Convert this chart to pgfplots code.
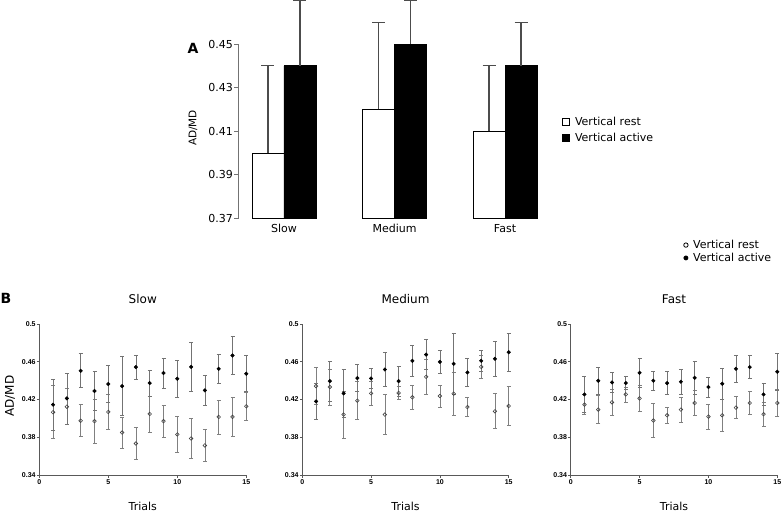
\documentclass[border=0pt]{standalone}
\usepackage{pgfplots}
\pgfplotsset{compat=1.18}
\usepackage{fontspec}
\setmainfont{DejaVu Sans}
\newfontfamily\tickfont{Liberation Sans}

\pgfplotsset{
  bstyle/.style={
    scale only axis, height=151pt,
    xmin=0, xmax=15, ymin=0.34, ymax=0.5,
    axis lines*=left,
    axis line style={black!65, line width=0.8pt, -},
    xtick={0,5,10,15}, ytick={0.34,0.38,0.42,0.46,0.5},
    tick align=outside, major tick length=2.5pt,
    tick style={black!65, line width=0.7pt},
    tick label style={font=\fontsize{7}{8}\tickfont\bfseries},
    /pgf/number format/assume math mode=true,
    yticklabel style={inner sep=1pt},
    xticklabel style={inner sep=1.5pt},
    clip=false,
  },
  activeplot/.style={only marks, mark=*, mark size=1.8pt, black,
    error bars/.cd, y dir=both, y explicit,
    error bar style={black!55, line width=0.7pt},
    error mark options={rotate=90, black!55, line width=0.7pt, mark size=2pt}},
  restplot/.style={only marks, mark=o, mark size=1.8pt, mark options={fill=white, draw=black!75, line width=0.6pt},
    error bars/.cd, y dir=both, y explicit,
    error bar style={black!50, line width=0.7pt},
    error mark options={rotate=90, black!50, line width=0.7pt, mark size=2pt}},
}

\begin{document}
\begin{tikzpicture}
\useasboundingbox (0pt,0pt) rectangle (781pt,-513pt);

% ---------------- Panel A ----------------
\begin{axis}[
  at={(238pt,-218.5pt)}, anchor=south west,
  scale only axis, width=313pt, height=218.1pt,
  xmin=-0.416, xmax=2.416, ymin=0.37, ymax=0.47,
  ybar=0pt, bar width=32pt,
  axis lines*=left, axis line style={draw=none},
  xtick={0,1,2}, xticklabels={Slow,Medium,Fast},
  xtick style={draw=none},
  ytick={0.37,0.39,0.41,0.43,0.45},
  tick align=outside, major tick length=4pt,
  ytick style={black!55, line width=0.8pt},
  /pgf/number format/assume math mode=true,
  yticklabel style={/pgf/number format/.cd, fixed, fixed zerofill, precision=2, /tikz/.cd, inner sep=1pt},
  xticklabel style={yshift=2pt},
  tick label style={font=\fontsize{11}{13}\selectfont},
  legend image code/.code={\draw[#1, line width=0.8pt] (0pt,-3.7pt) rectangle (7.4pt,3.7pt);},
  legend style={at={(axis description cs:1.034,0.406)}, anchor=west, draw=none, fill=none,
    inner sep=0pt, font=\fontsize{11}{13}\selectfont, row sep=4pt,
    nodes={inner sep=1pt}, /tikz/every odd column/.append style={column sep=4pt}},
  legend cell align=left,
]
\addlegendimage{fill=white, draw=black}
\addlegendimage{fill=black, draw=black}
\addplot[fill=white, draw=black, line width=0.9pt, bar shift=-16pt,
  error bars/.cd, y dir=plus, y explicit,
  error bar style={line width=1.2pt, black!70},
  error mark options={rotate=90, line width=1.2pt, black!70, mark size=6.5pt}]
  table[x=x, y=y, y error=e] {
x y e
0 0.40 0.04
1 0.42 0.04
2 0.41 0.03
};
\addplot[fill=black, draw=black, line width=0.9pt, bar shift=16pt,
  error bars/.cd, y dir=plus, y explicit,
  error bar style={line width=1.2pt, black!70},
  error mark options={rotate=90, line width=1.2pt, black!70, mark size=6.5pt}]
  table[x=x, y=y, y error=e] {
x y e
0 0.44 0.03
1 0.45 0.02
2 0.44 0.02
};
\legend{Vertical rest, Vertical active}
\draw[black!55, line width=0.8pt] (rel axis cs:0,0) -- (axis cs:-0.416,0.45);
\end{axis}
\node[font=\bfseries\fontsize{14}{16}\selectfont] at (193pt,-48pt) {A};
\node[rotate=90, font=\fontsize{10.5}{12}\selectfont] at (193pt,-128pt) {AD/MD};

% ---------------- Panel B: Slow ----------------
\begin{axis}[bstyle, at={(39.3pt,-475pt)}, anchor=south west, width=207pt]
\addplot[restplot] table[x=x, y=y, y error=e] {
x y e
1 0.4065 0.028
2 0.4124 0.019
3 0.3975 0.017
4 0.3970 0.023
5 0.4068 0.0185
6 0.3850 0.0165
7 0.3734 0.017
8 0.4047 0.019
9 0.3970 0.017
10 0.3830 0.0187
11 0.3787 0.021
12 0.3713 0.017
13 0.4015 0.018
14 0.4015 0.021
15 0.4128 0.015
};
\addplot[activeplot] table[x=x, y=y, y error=e] {
x y e
1 0.4145 0.027
2 0.4212 0.027
3 0.4504 0.018
4 0.4290 0.021
5 0.4364 0.0197
6 0.4342 0.031
7 0.4543 0.013
8 0.4374 0.0137
9 0.4480 0.0158
10 0.4420 0.020
11 0.4546 0.026
12 0.4297 0.0155
13 0.4525 0.0158
14 0.4666 0.020
15 0.4473 0.019
};
\end{axis}

% ---------------- Panel B: Medium ----------------
\begin{axis}[bstyle, at={(302.3pt,-475pt)}, anchor=south west, width=206.4pt]
\addplot[restplot] table[x=x, y=y, y error=e] {
x y e
1 0.4342 0.0197
2 0.4332 0.019
3 0.4040 0.025
4 0.4188 0.020
5 0.4265 0.013
6 0.4040 0.021
7 0.4269 0.0066
8 0.4223 0.013
9 0.4440 0.0185
10 0.4237 0.0115
11 0.4262 0.023
12 0.4120 0.010
13 0.4546 0.012
14 0.4075 0.0185
15 0.4131 0.0205
};
\addplot[activeplot] table[x=x, y=y, y error=e] {
x y e
1 0.4180 0.0187
2 0.4395 0.021
3 0.4265 0.025
4 0.4427 0.0145
5 0.4423 0.011
6 0.4518 0.018
7 0.4395 0.016
8 0.4610 0.0165
9 0.4676 0.016
10 0.4599 0.012
11 0.4578 0.0327
12 0.4487 0.015
13 0.4610 0.011
14 0.4631 0.0185
15 0.4701 0.020
};
\end{axis}

% ---------------- Panel B: Fast ----------------
\begin{axis}[bstyle, at={(570.7pt,-475pt)}, anchor=south west, width=206.6pt,
  legend image code/.code={\draw[#1] plot coordinates {(3pt,0pt)};},
  legend style={at={(axis description cs:0.546,1.48)}, anchor=west, draw=none, fill=none,
    inner sep=0pt, font=\fontsize{11}{13}\selectfont, row sep=1pt,
    nodes={inner sep=1pt}, /tikz/every odd column/.append style={column sep=4pt}},
  legend cell align=left,
]
\addlegendimage{only marks, mark=o, mark size=2.2pt, mark options={fill=white, draw=black, line width=0.8pt}}
\addlegendimage{only marks, mark=*, mark size=2.2pt, black}
\addplot[restplot] table[x=x, y=y, y error=e] {
x y e
1 0.4145 0.0105
2 0.4093 0.015
3 0.4170 0.0137
4 0.4254 0.008
5 0.4212 0.014
6 0.3977 0.018
7 0.4033 0.0085
8 0.4093 0.013
9 0.4163 0.013
10 0.4019 0.013
11 0.4033 0.017
12 0.4114 0.0115
13 0.4163 0.0125
14 0.4044 0.0125
15 0.4163 0.014
};
\addplot[activeplot] table[x=x, y=y, y error=e] {
x y e
1 0.4254 0.019
2 0.4399 0.0147
3 0.4381 0.0105
4 0.4374 0.007
5 0.4483 0.015
6 0.4399 0.010
7 0.4374 0.012
8 0.4388 0.013
9 0.4430 0.0177
10 0.4332 0.0107
11 0.4367 0.0165
12 0.4525 0.0148
13 0.4543 0.012
14 0.4254 0.0115
15 0.4494 0.020
};
\legend{Vertical rest, Vertical active}
\end{axis}

\node[font=\bfseries\fontsize{14}{16}\selectfont] at (6pt,-298.5pt) {B};
\node[rotate=90, font=\fontsize{12}{14}\selectfont] at (10pt,-396pt) {AD/MD};
\node[font=\fontsize{12}{14}\selectfont] at (142.8pt,-299pt) {Slow};
\node[font=\fontsize{12}{14}\selectfont] at (405.5pt,-299pt) {Medium};
\node[font=\fontsize{12}{14}\selectfont] at (674pt,-299pt) {Fast};
\node[font=\fontsize{11}{13}\selectfont] at (142.8pt,-506.5pt) {Trials};
\node[font=\fontsize{11}{13}\selectfont] at (405.5pt,-506.5pt) {Trials};
\node[font=\fontsize{11}{13}\selectfont] at (674pt,-506.5pt) {Trials};
\end{tikzpicture}
\end{document}
